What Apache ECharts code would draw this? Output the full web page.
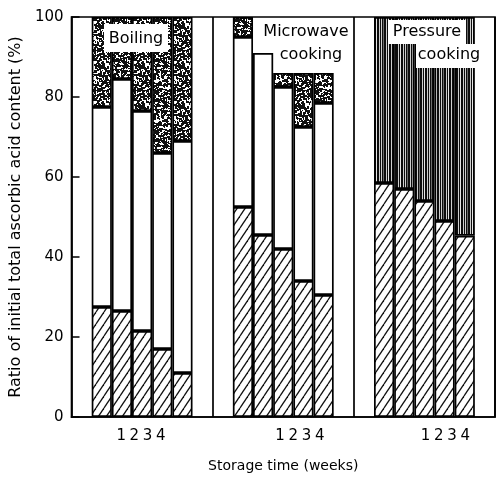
<!DOCTYPE html>
<html><head><meta charset="utf-8">
<script src="https://cdn.jsdelivr.net/npm/echarts/dist/echarts.min.js"></script>
<style>html,body{margin:0;padding:0;background:#fff}#c{width:504px;height:482px}</style>
</head><body><div id="c"></div>
<script>
// ---- data (cumulative tops, % of initial) ----
const groupNames = ['Boiling', 'Microwave cooking', 'Pressure cooking'];
const boilingHatched = [27.5, 26.5, 21.5, 17, 11];
const boilingOpenTop = [77.5, 84.5, 76.5, 66, 69];
const boilingStippleTop = [100, 100, 100, 100, 100];
const microwaveHatched = [52.5, 45.5, 42, 34, 30.5];
const microwaveOpenTop = [95, 91, 82.5, 72.5, 78.5];
const microwaveStippleTop = [100, 91, 86, 86, 86];
const pressureHatched = [58.5, 57, 54, 49, 45.3];
const pressureLinedTop = [100, 100, 100, 100, 100];
const weekLabels = ['1', '2', '3', '4'];
const yTicks = [0, 20, 40, 60, 80, 100];

// ---- layout helpers ----
const FONT = '"DejaVu Sans", sans-serif';
function slots(vals) { return [null].concat(vals.map(v => (v == null || v <= 0) ? null : +v.toFixed(2)), [null]); }
function diff(a, b) { return a.map((v, i) => (v == null || b[i] == null) ? null : v - b[i]); }
const none = [null, null, null, null, null];
const slotNames = [];
groupNames.forEach((g) => { for (let i = 0; i < 7; i++) slotNames.push(g + ' ' + i); });

const hatchedData = slots(boilingHatched).concat(slots(microwaveHatched), slots(pressureHatched));
const openData = slots(diff(boilingOpenTop, boilingHatched)).concat(slots(diff(microwaveOpenTop, microwaveHatched)), slots(none));
const stippleData = slots(diff(boilingStippleTop, boilingOpenTop)).concat(slots(diff(microwaveStippleTop, microwaveOpenTop)), slots(none));
const linedData = slots(none).concat(slots(none), slots(diff(pressureLinedTop, pressureHatched)));

// fine label axis: week labels placed under each group
const FINE = 64;
const weekSlotStart = [7, 31, 53];
const fineLabels = new Array(FINE).fill('');
weekSlotStart.forEach(s => weekLabels.forEach((w, i) => { fineLabels[s + 2 * i] = w; }));

// ---- patterns ----
function hatch() {
  const c = document.createElement('canvas'); c.width = 8; c.height = 12;
  const g = c.getContext('2d'); g.fillStyle = '#fff'; g.fillRect(0, 0, 8, 12);
  g.strokeStyle = '#111'; g.lineWidth = 1.3;
  for (const dx of [-8, 0, 8]) { g.beginPath(); g.moveTo(dx, 12); g.lineTo(dx + 8, 0); g.stroke(); }
  return c;
}
function stipple() {
  const N = 40; const c = document.createElement('canvas'); c.width = N; c.height = N;
  const g = c.getContext('2d'); g.fillStyle = '#fff'; g.fillRect(0, 0, N, N);
  g.fillStyle = '#111'; let s = 12345;
  const r = () => { s = (s * 1103515245 + 12345) & 0x7fffffff; return s / 0x7fffffff; };
  for (let i = 0; i < 700; i++) {
    const x = Math.floor(r() * N), y = Math.floor(r() * N);
    const w = r() < 0.6 ? 2 : 1, h = r() < 0.6 ? 2 : 1;
    g.fillRect(x, y, w, h);
    if (x + w > N) g.fillRect(x - N, y, w, h);
    if (y + h > N) g.fillRect(x, y - N, w, h);
  }
  return c;
}
function lined() {
  const c = document.createElement('canvas'); c.width = 12; c.height = 4;
  const g = c.getContext('2d'); g.fillStyle = '#fff'; g.fillRect(0, 0, 12, 4);
  g.fillStyle = '#0d0d0d';
  [[0, 2], [2.8, 1.3], [5, 2], [7.8, 1.4], [10, 1.6]].forEach(([x, w]) => g.fillRect(x, 0, w, 4));
  return c;
}

const border = { borderColor: '#000', borderWidth: 1.7 };
function barSeries(name, data, fill) {
  return { name, type: 'bar', stack: 'total', xAxisIndex: 0, barWidth: '100%', data,
    itemStyle: Object.assign({ color: fill }, border), emphasis: { disabled: true } };
}

const chart = echarts.init(document.getElementById('c'), null, { renderer: 'canvas' });
chart.setOption({
  animation: false,
  backgroundColor: '#fff',
  textStyle: { fontFamily: FONT },
  grid: { left: 70, right: 9, top: 17, bottom: 65, show: true, borderColor: '#000', borderWidth: 1.7, backgroundColor: 'transparent' },
  xAxis: [
    { type: 'category', data: slotNames, boundaryGap: true,
      axisLine: { lineStyle: { color: '#000', width: 1.7 } }, axisTick: { show: false }, axisLabel: { show: false },
      splitLine: { show: true, interval: (i) => i === 7 || i === 14, lineStyle: { color: '#000', width: 1.7 } } },
    { type: 'category', data: fineLabels, position: 'bottom', boundaryGap: true,
      axisLine: { show: false }, axisTick: { show: false },
      axisLabel: { interval: 0, fontSize: 15, color: '#000', margin: 12, fontFamily: FONT },
      name: 'Storage time (weeks)', nameLocation: 'middle', nameGap: 42,
      nameTextStyle: { fontSize: 14, color: '#000', fontFamily: FONT } }
  ],
  yAxis: { type: 'value', min: yTicks[0], max: yTicks[yTicks.length - 1], interval: 20,
    axisLine: { show: true, lineStyle: { color: '#000', width: 1.7 } },
    axisTick: { show: true, inside: true, length: 8, lineStyle: { color: '#000', width: 1.5 } },
    axisLabel: { fontSize: 15, color: '#000', margin: 8, fontFamily: FONT },
    splitLine: { show: false },
    name: 'Ratio of initial total ascorbic acid content (%)', nameLocation: 'middle', nameGap: 44, nameRotate: 90,
    nameTextStyle: { fontSize: 16, color: '#000', fontFamily: FONT } },
  series: [
    barSeries('hatched', hatchedData, { image: hatch(), repeat: 'repeat' }),
    barSeries('open', openData, '#fff'),
    barSeries('stippled', stippleData, { image: stipple(), repeat: 'repeat' }),
    barSeries('lined', linedData, { image: lined(), repeat: 'repeat' })
  ],
  graphic: [
    { type: 'rect', shape: { x: 104, y: 24, width: 64, height: 28 }, style: { fill: '#fff' }, z: 100 },
    { type: 'text', x: 136, y: 39, style: { text: 'Boiling', font: '16px ' + FONT, fill: '#000', align: 'center', verticalAlign: 'middle' }, z: 101 },
    { type: 'rect', shape: { x: 260, y: 20, width: 91, height: 24 }, style: { fill: '#fff' }, z: 100 },
    { type: 'rect', shape: { x: 277, y: 44, width: 70, height: 24 }, style: { fill: '#fff' }, z: 100 },
    { type: 'text', x: 306, y: 32, style: { text: 'Microwave', font: '16px ' + FONT, fill: '#000', align: 'center', verticalAlign: 'middle' }, z: 101 },
    { type: 'text', x: 311, y: 55, style: { text: 'cooking', font: '16px ' + FONT, fill: '#000', align: 'center', verticalAlign: 'middle' }, z: 101 },
    { type: 'rect', shape: { x: 388, y: 20, width: 78, height: 24 }, style: { fill: '#fff' }, z: 100 },
    { type: 'rect', shape: { x: 416, y: 44, width: 66, height: 24 }, style: { fill: '#fff' }, z: 100 },
    { type: 'text', x: 427, y: 32, style: { text: 'Pressure', font: '16px ' + FONT, fill: '#000', align: 'center', verticalAlign: 'middle' }, z: 101 },
    { type: 'text', x: 449, y: 55, style: { text: 'cooking', font: '16px ' + FONT, fill: '#000', align: 'center', verticalAlign: 'middle' }, z: 101 }
  ]
});
</script></body></html>
